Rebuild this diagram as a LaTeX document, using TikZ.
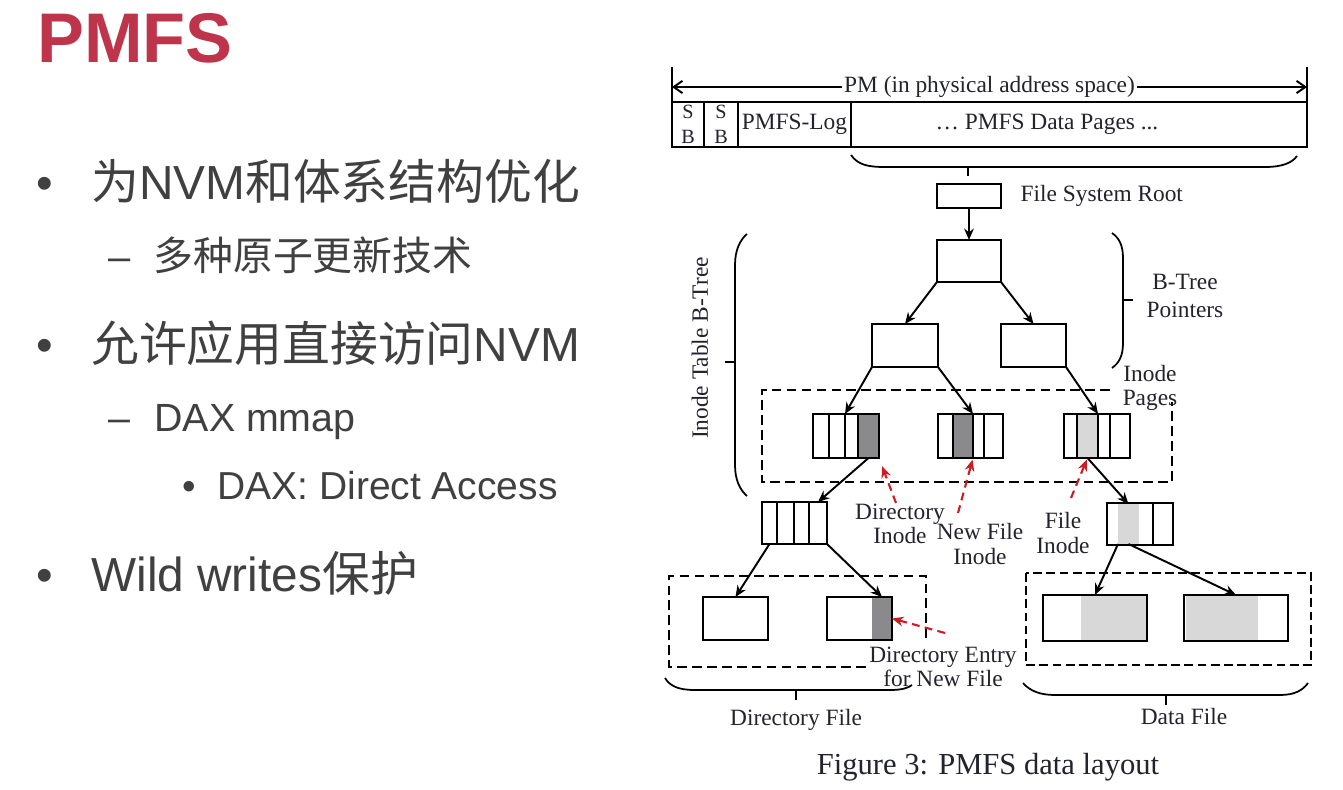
\documentclass[tikz,border=0pt]{standalone}
\usepackage{fontspec}
\setmainfont{Liberation Serif}
\newfontfamily\slidefont{Liberation Sans}
\newfontfamily\cjk{Noto Sans CJK SC}
\usetikzlibrary{arrows.meta,positioning}

\definecolor{titlered}{RGB}{190,52,74}
\definecolor{slidegray}{RGB}{64,64,64}
\definecolor{notered}{RGB}{200,30,36}
\definecolor{figtext}{RGB}{35,35,45}
\definecolor{darkcell}{RGB}{138,138,140}
\definecolor{lightcell}{RGB}{216,216,216}

\begin{document}
\begin{tikzpicture}[x=0.02cm, y=-0.02cm,
    bx/.style 2 args={rectangle, draw, line width=1.4pt, inner sep=0pt, outer sep=0pt,
        minimum width=#1*0.02cm, minimum height=#2*0.02cm},
    graycell/.style 2 args={rectangle, inner sep=0pt, outer sep=0pt, anchor=north west,
        minimum width=#1*0.02cm, minimum height=#2*0.02cm},
    lbl/.style={font=\fontsize{13.3}{14}\selectfont, text=figtext, inner sep=0pt, align=center},
    ptr/.style={-{Stealth[length=6.5pt,width=5.5pt]}, line width=1.1pt},
    hint/.style={-{Stealth[length=6.5pt,width=5.5pt]}, line width=1.2pt, notered, dash pattern=on 4.5pt off 3pt},
    bracepath/.style={line width=1pt},
    pagebox/.style={line width=1.1pt, dash pattern=on 5.5pt off 3pt},
    slideline/.style={anchor=base west, inner sep=0pt, text=slidegray}
]
    \fill[white] (0,0) rectangle (1343,790);
    \useasboundingbox (0,0) rectangle (1343,790);

    % Slide title and bullets
    \node[slideline, text=titlered, font=\slidefont\bfseries\fontsize{40}{48}\selectfont] (title) at (37,63) {PMFS};

    \node[slideline, font=\slidefont\fontsize{27}{32}\selectfont] (dot1) at (36,200) {•};
    \node[slideline, font=\slidefont\fontsize{27.2}{32}\selectfont] (item1) at (91,200) {{\cjk 为}NVM{\cjk 和体系结构优化}};
    \node[slideline, font=\slidefont\fontsize{22.7}{27}\selectfont] (dash1) at (108,271) {–};
    \node[slideline, font=\slidefont\fontsize{22.7}{27}\selectfont] (item2) at (153,271) {\cjk 多种原子更新技术};
    \node[slideline, font=\slidefont\fontsize{27}{32}\selectfont] (dot2) at (36,362) {•};
    \node[slideline, font=\slidefont\fontsize{27.2}{32}\selectfont] (item3) at (91,362) {{\cjk 允许应用直接访问}NVM};
    \node[slideline, font=\slidefont\fontsize{22.4}{27}\selectfont] (dash2) at (108,432) {–};
    \node[slideline, font=\slidefont\fontsize{22.4}{27}\selectfont] (item4) at (154,432) {DAX mmap};
    \node[slideline, font=\slidefont\fontsize{22}{26}\selectfont] (dot3) at (182,500) {•};
    \node[slideline, font=\slidefont\fontsize{22.2}{26}\selectfont] (item5) at (217,500) {DAX: Direct Access};
    \node[slideline, font=\slidefont\fontsize{27}{32}\selectfont] (dot4) at (36,592) {•};
    \node[slideline, font=\slidefont\fontsize{27.2}{32}\selectfont] (item6) at (91,592) {Wild writes{\cjk 保护}};

    % PM address space
    \coordinate (pmL) at (672,87);
    \coordinate (pmR) at (1307,87);
    \draw[line width=1.1pt] (672,67) -- (672,102);
    \draw[line width=1.1pt] (1307,67) -- (1307,102);
    \draw[{Straight Barb[length=5pt,width=7pt]}-{Straight Barb[length=5pt,width=7pt]}, line width=1.1pt]
        (pmL) -- node[lbl, fill=white, inner xsep=1pt] (pmlbl) {PM (in physical address space)} (pmR);

    \node[bx={32}{45}, anchor=north west, lbl, font=\fontsize{11.5}{14}\selectfont] (sb1) at (672,102) {S\\B};
    \node[bx={34}{45}, right=0pt of sb1, lbl, font=\fontsize{11.5}{14}\selectfont] (sb2) {S\\B};
    \node[bx={113}{45}, right=0pt of sb2, lbl] (log) {PMFS-Log};
    \node[bx={456}{45}, right=0pt of log] (pages) {};
    \node[lbl, anchor=west] (pagestxt) at ([xshift=48pt]pages.west) {… PMFS Data Pages ...};

    \draw[bracepath] (851,155) .. controls (858,165) and (868,167) .. (885,167) -- (1265,167) .. controls (1282,167) and (1292,163) .. (1297,156);
    \draw[bracepath] (968,167) -- (968,176);

    % B-tree
    \node[bx={64}{24}, anchor=north west] (fsroot) at (937,184) {};
    \node[lbl, right=11pt of fsroot] (fsrootlbl) {File System Root};
    \node[bx={64}{42}, anchor=north west] (bt) at (937,240) {};
    \node[bx={66}{43}, anchor=north west] (btl) at (872,324) {};
    \node[bx={65}{43}, anchor=north west] (btr) at (1001,324) {};

    \draw[ptr] (fsroot) -- (bt);
    \draw[ptr] (bt.south west) -- (btl.north);
    \draw[ptr] (bt.south east) -- (btr.north);

    \draw[bracepath] (747,234) .. controls (740,240) and (735,250) .. (735,265) -- (735,465) .. controls (735,480) and (740,490) .. (747,496);
    \draw[bracepath] (725,362) -- (735,362);
    \node[lbl, rotate=90] (itlbl) at (700,348) {Inode Table B-Tree};

    \draw[bracepath] (1112,233) .. controls (1119,238) and (1123,245) .. (1123,258) -- (1123,343) .. controls (1123,356) and (1119,363) .. (1112,368);
    \draw[bracepath] (1123,300) -- (1133,300);
    \node[lbl, font=\fontsize{13.3}{16}\selectfont] (btreelbl) at (1185,296) {B-Tree\\Pointers};

    % Inode pages
    \draw[pagebox] (1110,390) -- (762,390) -- (762,482) -- (1172,482) -- (1172,402);
    \node[lbl, font=\fontsize{13.3}{14}\selectfont] (pageslbl) at (1150,388) {Inode\\Pages};

    \node[bx={16}{44}, anchor=north west] (r1a) at (813,414) {};
    \node[bx={16}{44}, right=0pt of r1a] (r1b) {};
    \node[bx={13}{44}, right=0pt of r1b] (r1c) {};
    \node[bx={21}{44}, right=0pt of r1c, fill=darkcell] (r1d) {};

    \node[bx={15}{44}, anchor=north west] (r2a) at (938,414) {};
    \node[bx={20}{44}, right=0pt of r2a, fill=darkcell] (r2b) {};
    \node[bx={11}{44}, right=0pt of r2b] (r2c) {};
    \node[bx={19}{44}, right=0pt of r2c] (r2d) {};

    \node[bx={13}{44}, anchor=north west] (r3a) at (1064,414) {};
    \node[bx={21}{44}, right=0pt of r3a, fill=lightcell] (r3b) {};
    \node[bx={12}{44}, right=0pt of r3b] (r3c) {};
    \node[bx={20}{44}, right=0pt of r3c] (r3d) {};

    \draw[ptr] (btl.south west) -- (r1c.north west);
    \draw[ptr] (btl.south east) -- (r2b.north east);
    \draw[ptr] (btr.south east) -- (r3b.north east);

    % Directory file
    \node[bx={15}{42}, anchor=north west] (d1) at (762,502) {};
    \node[bx={17}{42}, right=0pt of d1] (d2) {};
    \node[bx={15}{42}, right=0pt of d2] (d3) {};
    \node[bx={18}{42}, right=0pt of d3] (d4) {};
    \draw[ptr] (r1d.south) -- (d4.north);

    \draw[pagebox] (866,667) -- (669,667) -- (669,576) -- (926,576) -- (926,642);
    \node[bx={65}{43}, anchor=north west] (dl) at (703,597) {};
    \node[graycell={20}{43}, fill=darkcell] (dgray) at (872,597) {};
    \node[bx={65}{43}, anchor=north west] (dr) at (827,597) {};
    \draw[ptr] (d1.south) -- (dl.north);
    \draw[ptr] (d4.south east) -- (dgray.north);

    \draw[bracepath] (665,678) .. controls (670,686) and (678,690) .. (695,690) -- (890,690) .. controls (902,690) and (908,688) .. (912,685);
    \draw[bracepath] (796,690) -- (796,700);
    \node[lbl] (dflbl) at (796,720) {Directory File};

    % Data file
    \node[graycell={21}{40}, fill=lightcell] (fg) at (1118,504) {};
    \node[bx={46}{42}, anchor=north west] (fa) at (1107,503) {};
    \node[bx={20}{42}, right=0pt of fa] (fb) {};
    \draw[ptr] (r3b.south) -- (fg.north);

    \draw[line width=1.6pt, dash pattern=on 5pt off 2.5pt] (1026,573) rectangle (1311,665);
    \node[graycell={65}{45}, fill=lightcell] (g1) at (1081,596) {};
    \node[bx={104}{46}, anchor=north west] (db1) at (1043,595) {};
    \node[graycell={72}{45}, fill=lightcell] (g2) at (1186,596) {};
    \node[bx={104}{46}, anchor=north west] (db2) at (1184,595) {};
    \draw[ptr] (fg.south west) -- (db1.north);
    \draw[ptr] (fg.south) -- (db2.north);

    \draw[bracepath] (1023,683) .. controls (1030,691) and (1040,695) .. (1055,695) -- (1280,695) .. controls (1295,695) and (1303,690) .. (1308,683);
    \draw[bracepath] (1166,695) -- (1166,705);
    \node[lbl] (datalbl) at (1184,717) {Data File};

    % Red hints
    \node[lbl] (dilbl) at (900,524) {Directory\\Inode};
    \node[lbl] (nflbl) at (980,544) {New File\\Inode};
    \node[lbl] (filbl) at (1063,533) {File\\Inode};
    \node[lbl] (delbl) at (943,667) {Directory Entry\\for New File};
    \coordinate (ditail) at (896,503);
    \coordinate (nftail) at (958,513);
    \coordinate (fitail) at (1071,498);
    \coordinate (detail) at (945,633);
    \draw[hint, shorten >=5pt] (ditail) -- (r1d.south east);
    \draw[hint, shorten >=1pt] (nftail) -- (r2b.south east);
    \draw[hint, shorten >=1pt] (fitail) -- (r3b.south);
    \draw[hint] (detail) -- (dgray.east);

    \node[inner sep=0pt, text=figtext, font=\fontsize{17.4}{21}\selectfont] (caption) at (988,767) {Figure 3: PMFS data layout};
\end{tikzpicture}
\end{document}
